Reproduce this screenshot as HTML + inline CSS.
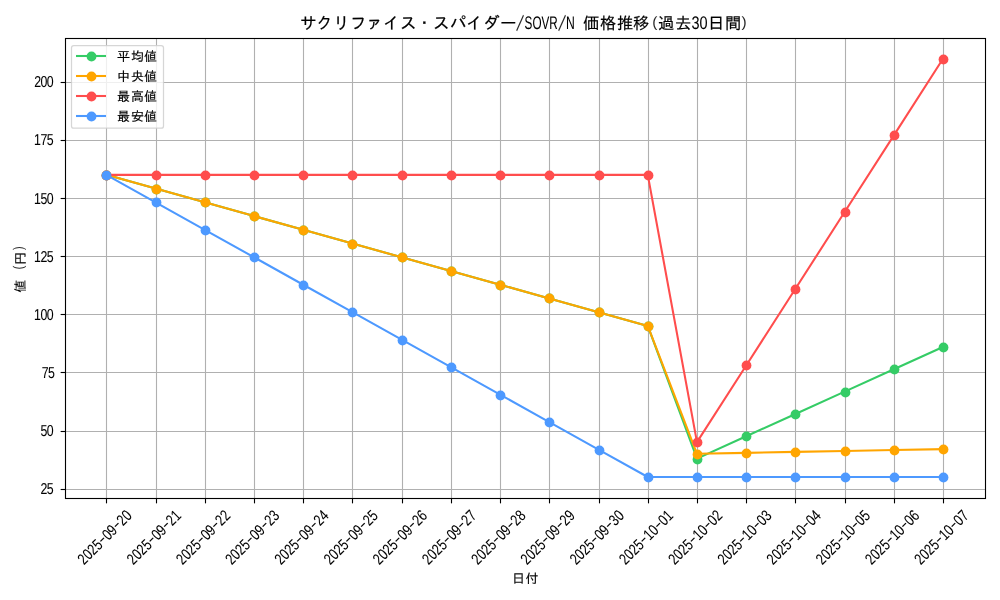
<!DOCTYPE html>
<html lang="ja">
<head>
<meta charset="utf-8">
<title>サクリファイス・スパイダー/SOVR/N 価格推移(過去30日間)</title>
<style>
html,body{margin:0;padding:0;background:#fff;width:1000px;height:600px;overflow:hidden}
svg{display:block}
text{font-family:"Liberation Sans", "IPAGothic", sans-serif;fill:#000;white-space:pre;stroke:#000;stroke-width:0.2px;stroke-linejoin:round}
.l{text-rendering:geometricPrecision;stroke-width:0.06px}
.sl{stroke:none;fill-opacity:0.85}
.g line{stroke:#b0b0b0;stroke-width:1.11}
.t line{stroke:#000;stroke-width:1.11}
.s{fill:none;stroke-width:2.08;stroke-linejoin:round;stroke-linecap:square}
.j{font-size:13.89px;stroke-width:0.15px}
.ti{font-size:16.67px}
.yl{stroke-width:0.08px}
</style>
</head>
<body>
<svg width="1000" height="600" viewBox="0 0 1000 600" role="img" aria-label="サクリファイス・スパイダー/SOVR/N 価格推移(過去30日間)">
<rect width="1000" height="600" fill="#fff"/>
<g class="g">
<line x1="106.5" y1="38.5" x2="106.5" y2="498.5"/>
<line x1="156.5" y1="38.5" x2="156.5" y2="498.5"/>
<line x1="205.5" y1="38.5" x2="205.5" y2="498.5"/>
<line x1="254.5" y1="38.5" x2="254.5" y2="498.5"/>
<line x1="303.5" y1="38.5" x2="303.5" y2="498.5"/>
<line x1="352.5" y1="38.5" x2="352.5" y2="498.5"/>
<line x1="402.5" y1="38.5" x2="402.5" y2="498.5"/>
<line x1="451.5" y1="38.5" x2="451.5" y2="498.5"/>
<line x1="500.5" y1="38.5" x2="500.5" y2="498.5"/>
<line x1="549.5" y1="38.5" x2="549.5" y2="498.5"/>
<line x1="599.5" y1="38.5" x2="599.5" y2="498.5"/>
<line x1="648.5" y1="38.5" x2="648.5" y2="498.5"/>
<line x1="697.5" y1="38.5" x2="697.5" y2="498.5"/>
<line x1="746.5" y1="38.5" x2="746.5" y2="498.5"/>
<line x1="795.5" y1="38.5" x2="795.5" y2="498.5"/>
<line x1="845.5" y1="38.5" x2="845.5" y2="498.5"/>
<line x1="894.5" y1="38.5" x2="894.5" y2="498.5"/>
<line x1="943.5" y1="38.5" x2="943.5" y2="498.5"/>
<line x1="65.5" y1="489.5" x2="985.5" y2="489.5"/>
<line x1="65.5" y1="431.5" x2="985.5" y2="431.5"/>
<line x1="65.5" y1="372.5" x2="985.5" y2="372.5"/>
<line x1="65.5" y1="314.5" x2="985.5" y2="314.5"/>
<line x1="65.5" y1="256.5" x2="985.5" y2="256.5"/>
<line x1="65.5" y1="198.5" x2="985.5" y2="198.5"/>
<line x1="65.5" y1="140.5" x2="985.5" y2="140.5"/>
<line x1="65.5" y1="82.5" x2="985.5" y2="82.5"/>
</g>
<g fill="#35cc66" stroke="#35cc66">
<polyline class="s" points="106.38,174.87 155.6,188.6 204.81,202.34 254.03,216.07 303.25,229.81 352.46,243.54 401.68,257.27 450.9,271.01 500.12,284.74 549.33,298.48 598.55,312.21 647.77,325.94 696.98,458.65 746.2,436.3 795.42,413.94 844.63,391.58 893.85,369.22 943.07,346.86"/>
<circle cx="106.5" cy="175.5" r="4.92" stroke="none"/>
<circle cx="156.5" cy="189.5" r="4.92" stroke="none"/>
<circle cx="205.5" cy="202.5" r="4.92" stroke="none"/>
<circle cx="254.5" cy="216.5" r="4.92" stroke="none"/>
<circle cx="303.5" cy="230.5" r="4.92" stroke="none"/>
<circle cx="352.5" cy="244.5" r="4.92" stroke="none"/>
<circle cx="402.5" cy="257.5" r="4.92" stroke="none"/>
<circle cx="451.5" cy="271.5" r="4.92" stroke="none"/>
<circle cx="500.5" cy="285.5" r="4.92" stroke="none"/>
<circle cx="549.5" cy="298.5" r="4.92" stroke="none"/>
<circle cx="599.5" cy="312.5" r="4.92" stroke="none"/>
<circle cx="648.5" cy="326.5" r="4.92" stroke="none"/>
<circle cx="697.5" cy="459.5" r="4.92" stroke="none"/>
<circle cx="746.5" cy="436.5" r="4.92" stroke="none"/>
<circle cx="795.5" cy="414.5" r="4.92" stroke="none"/>
<circle cx="845.5" cy="392.5" r="4.92" stroke="none"/>
<circle cx="894.5" cy="369.5" r="4.92" stroke="none"/>
<circle cx="943.5" cy="347.5" r="4.92" stroke="none"/>
</g>
<g fill="#ffa500" stroke="#ffa500">
<polyline class="s" points="106.38,174.87 155.6,188.6 204.81,202.34 254.03,216.07 303.25,229.81 352.46,243.54 401.68,257.27 450.9,271.01 500.12,284.74 549.33,298.48 598.55,312.21 647.77,325.94 696.98,453.77 746.2,452.84 795.42,451.91 844.63,450.98 893.85,450.06 943.07,449.13"/>
<circle cx="106.5" cy="175.5" r="4.92" stroke="none"/>
<circle cx="156.5" cy="189.5" r="4.92" stroke="none"/>
<circle cx="205.5" cy="202.5" r="4.92" stroke="none"/>
<circle cx="254.5" cy="216.5" r="4.92" stroke="none"/>
<circle cx="303.5" cy="230.5" r="4.92" stroke="none"/>
<circle cx="352.5" cy="244.5" r="4.92" stroke="none"/>
<circle cx="402.5" cy="257.5" r="4.92" stroke="none"/>
<circle cx="451.5" cy="271.5" r="4.92" stroke="none"/>
<circle cx="500.5" cy="285.5" r="4.92" stroke="none"/>
<circle cx="549.5" cy="298.5" r="4.92" stroke="none"/>
<circle cx="599.5" cy="312.5" r="4.92" stroke="none"/>
<circle cx="648.5" cy="326.5" r="4.92" stroke="none"/>
<circle cx="697.5" cy="454.5" r="4.92" stroke="none"/>
<circle cx="746.5" cy="453.5" r="4.92" stroke="none"/>
<circle cx="795.5" cy="452.5" r="4.92" stroke="none"/>
<circle cx="845.5" cy="451.5" r="4.92" stroke="none"/>
<circle cx="894.5" cy="450.5" r="4.92" stroke="none"/>
<circle cx="943.5" cy="449.5" r="4.92" stroke="none"/>
</g>
<g fill="#ff4d4d" stroke="#ff4d4d">
<polyline class="s" points="106.38,174.87 155.6,174.87 204.81,174.87 254.03,174.87 303.25,174.87 352.46,174.87 401.68,174.87 450.9,174.87 500.12,174.87 549.33,174.87 598.55,174.87 647.77,174.87 696.98,442.15 746.2,365.45 795.42,288.76 844.63,212.06 893.85,135.36 943.07,58.66"/>
<circle cx="106.5" cy="175.5" r="4.92" stroke="none"/>
<circle cx="156.5" cy="175.5" r="4.92" stroke="none"/>
<circle cx="205.5" cy="175.5" r="4.92" stroke="none"/>
<circle cx="254.5" cy="175.5" r="4.92" stroke="none"/>
<circle cx="303.5" cy="175.5" r="4.92" stroke="none"/>
<circle cx="352.5" cy="175.5" r="4.92" stroke="none"/>
<circle cx="402.5" cy="175.5" r="4.92" stroke="none"/>
<circle cx="451.5" cy="175.5" r="4.92" stroke="none"/>
<circle cx="500.5" cy="175.5" r="4.92" stroke="none"/>
<circle cx="549.5" cy="175.5" r="4.92" stroke="none"/>
<circle cx="599.5" cy="175.5" r="4.92" stroke="none"/>
<circle cx="648.5" cy="175.5" r="4.92" stroke="none"/>
<circle cx="697.5" cy="442.5" r="4.92" stroke="none"/>
<circle cx="746.5" cy="365.5" r="4.92" stroke="none"/>
<circle cx="795.5" cy="289.5" r="4.92" stroke="none"/>
<circle cx="845.5" cy="212.5" r="4.92" stroke="none"/>
<circle cx="894.5" cy="135.5" r="4.92" stroke="none"/>
<circle cx="943.5" cy="59.5" r="4.92" stroke="none"/>
</g>
<g fill="#4d99ff" stroke="#4d99ff">
<polyline class="s" points="106.38,174.87 155.6,202.34 204.81,229.81 254.03,257.27 303.25,284.74 352.46,312.21 401.68,339.68 450.9,367.14 500.12,394.61 549.33,422.08 598.55,449.55 647.77,477.02 696.98,477.02 746.2,477.02 795.42,477.02 844.63,477.02 893.85,477.02 943.07,477.02"/>
<circle cx="106.5" cy="175.5" r="4.92" stroke="none"/>
<circle cx="156.5" cy="202.5" r="4.92" stroke="none"/>
<circle cx="205.5" cy="230.5" r="4.92" stroke="none"/>
<circle cx="254.5" cy="257.5" r="4.92" stroke="none"/>
<circle cx="303.5" cy="285.5" r="4.92" stroke="none"/>
<circle cx="352.5" cy="312.5" r="4.92" stroke="none"/>
<circle cx="402.5" cy="340.5" r="4.92" stroke="none"/>
<circle cx="451.5" cy="367.5" r="4.92" stroke="none"/>
<circle cx="500.5" cy="395.5" r="4.92" stroke="none"/>
<circle cx="549.5" cy="422.5" r="4.92" stroke="none"/>
<circle cx="599.5" cy="450.5" r="4.92" stroke="none"/>
<circle cx="648.5" cy="477.5" r="4.92" stroke="none"/>
<circle cx="697.5" cy="477.5" r="4.92" stroke="none"/>
<circle cx="746.5" cy="477.5" r="4.92" stroke="none"/>
<circle cx="795.5" cy="477.5" r="4.92" stroke="none"/>
<circle cx="845.5" cy="477.5" r="4.92" stroke="none"/>
<circle cx="894.5" cy="477.5" r="4.92" stroke="none"/>
<circle cx="943.5" cy="477.5" r="4.92" stroke="none"/>
</g>
<rect x="65.5" y="38.5" width="920" height="460" fill="none" stroke="#000" stroke-width="1.11" stroke-linejoin="miter"/>
<g class="t">
<line x1="106.5" y1="498.5" x2="106.5" y2="503.36"/>
<line x1="156.5" y1="498.5" x2="156.5" y2="503.36"/>
<line x1="205.5" y1="498.5" x2="205.5" y2="503.36"/>
<line x1="254.5" y1="498.5" x2="254.5" y2="503.36"/>
<line x1="303.5" y1="498.5" x2="303.5" y2="503.36"/>
<line x1="352.5" y1="498.5" x2="352.5" y2="503.36"/>
<line x1="402.5" y1="498.5" x2="402.5" y2="503.36"/>
<line x1="451.5" y1="498.5" x2="451.5" y2="503.36"/>
<line x1="500.5" y1="498.5" x2="500.5" y2="503.36"/>
<line x1="549.5" y1="498.5" x2="549.5" y2="503.36"/>
<line x1="599.5" y1="498.5" x2="599.5" y2="503.36"/>
<line x1="648.5" y1="498.5" x2="648.5" y2="503.36"/>
<line x1="697.5" y1="498.5" x2="697.5" y2="503.36"/>
<line x1="746.5" y1="498.5" x2="746.5" y2="503.36"/>
<line x1="795.5" y1="498.5" x2="795.5" y2="503.36"/>
<line x1="845.5" y1="498.5" x2="845.5" y2="503.36"/>
<line x1="894.5" y1="498.5" x2="894.5" y2="503.36"/>
<line x1="943.5" y1="498.5" x2="943.5" y2="503.36"/>
<line x1="60.64" y1="489.5" x2="65.5" y2="489.5"/>
<line x1="60.64" y1="431.5" x2="65.5" y2="431.5"/>
<line x1="60.64" y1="372.5" x2="65.5" y2="372.5"/>
<line x1="60.64" y1="314.5" x2="65.5" y2="314.5"/>
<line x1="60.64" y1="256.5" x2="65.5" y2="256.5"/>
<line x1="60.64" y1="198.5" x2="65.5" y2="198.5"/>
<line x1="60.64" y1="140.5" x2="65.5" y2="140.5"/>
<line x1="60.64" y1="82.5" x2="65.5" y2="82.5"/>
</g>
<g>
<text class="l" transform="translate(40.8,494) scale(0.78,1)" font-size="15.8" x="-0.36 7.72" y="0">25</text>
<text class="l" transform="translate(40.8,436) scale(0.78,1)" font-size="15.8" x="-0.34 7.71" y="0">50</text>
<text class="l" transform="translate(42,378) scale(0.78,1)" font-size="15.8" x="-0.37 7.72" y="0">75</text>
<text class="l" transform="translate(34.5,320) scale(0.78,1)" font-size="15.8" x="-0.58 7.71 15.77" y="0">100</text>
<text class="l" transform="translate(34.5,262) scale(0.78,1)" font-size="15.8" x="-0.58 7.71 15.79" y="0">125</text>
<text class="l" transform="translate(34.5,204) scale(0.78,1)" font-size="15.8" x="-0.58 7.72 15.77" y="0">150</text>
<text class="l" transform="translate(34.5,145) scale(0.78,1)" font-size="15.8" x="-0.58 7.7 15.79" y="0">175</text>
<text class="l" transform="translate(34.5,87) scale(0.78,1)" font-size="15.8" x="-0.36 7.71 15.77" y="0">200</text>
</g>
<g font-size="15.8">
<text transform="translate(104.93,537.5) rotate(-45)"><tspan class="l" font-size="15.8" x="-34.5" y="5" textLength="27.6" lengthAdjust="spacingAndGlyphs">2025</tspan><tspan class="l" x="-6.86" y="3.7" textLength="6.82" lengthAdjust="spacingAndGlyphs">-</tspan><tspan class="l" font-size="15.8" x="0" y="5" textLength="13.8" lengthAdjust="spacingAndGlyphs">09</tspan><tspan class="l" x="13.84" y="3.7" textLength="6.82" lengthAdjust="spacingAndGlyphs">-</tspan><tspan class="l" font-size="15.8" x="20.7" y="5" textLength="13.8" lengthAdjust="spacingAndGlyphs">20</tspan></text>
<text transform="translate(154.15,537.5) rotate(-45)"><tspan class="l" font-size="15.8" x="-34.5" y="5" textLength="27.6" lengthAdjust="spacingAndGlyphs">2025</tspan><tspan class="l" x="-6.86" y="3.7" textLength="6.82" lengthAdjust="spacingAndGlyphs">-</tspan><tspan class="l" font-size="15.8" x="0" y="5" textLength="13.8" lengthAdjust="spacingAndGlyphs">09</tspan><tspan class="l" x="13.84" y="3.7" textLength="6.82" lengthAdjust="spacingAndGlyphs">-</tspan><tspan class="l" font-size="15.8" x="20.7" y="5" textLength="13.8" lengthAdjust="spacingAndGlyphs">21</tspan></text>
<text transform="translate(203.36,537.5) rotate(-45)"><tspan class="l" font-size="15.8" x="-34.5" y="5" textLength="27.6" lengthAdjust="spacingAndGlyphs">2025</tspan><tspan class="l" x="-6.86" y="3.7" textLength="6.82" lengthAdjust="spacingAndGlyphs">-</tspan><tspan class="l" font-size="15.8" x="0" y="5" textLength="13.8" lengthAdjust="spacingAndGlyphs">09</tspan><tspan class="l" x="13.84" y="3.7" textLength="6.82" lengthAdjust="spacingAndGlyphs">-</tspan><tspan class="l" font-size="15.8" x="20.7" y="5" textLength="13.8" lengthAdjust="spacingAndGlyphs">22</tspan></text>
<text transform="translate(252.58,537.5) rotate(-45)"><tspan class="l" font-size="15.8" x="-34.5" y="5" textLength="27.6" lengthAdjust="spacingAndGlyphs">2025</tspan><tspan class="l" x="-6.86" y="3.7" textLength="6.82" lengthAdjust="spacingAndGlyphs">-</tspan><tspan class="l" font-size="15.8" x="0" y="5" textLength="13.8" lengthAdjust="spacingAndGlyphs">09</tspan><tspan class="l" x="13.84" y="3.7" textLength="6.82" lengthAdjust="spacingAndGlyphs">-</tspan><tspan class="l" font-size="15.8" x="20.7" y="5" textLength="13.8" lengthAdjust="spacingAndGlyphs">23</tspan></text>
<text transform="translate(301.8,537.5) rotate(-45)"><tspan class="l" font-size="15.8" x="-34.5" y="5" textLength="27.6" lengthAdjust="spacingAndGlyphs">2025</tspan><tspan class="l" x="-6.86" y="3.7" textLength="6.82" lengthAdjust="spacingAndGlyphs">-</tspan><tspan class="l" font-size="15.8" x="0" y="5" textLength="13.8" lengthAdjust="spacingAndGlyphs">09</tspan><tspan class="l" x="13.84" y="3.7" textLength="6.82" lengthAdjust="spacingAndGlyphs">-</tspan><tspan class="l" font-size="15.8" x="20.7" y="5" textLength="13.8" lengthAdjust="spacingAndGlyphs">24</tspan></text>
<text transform="translate(351.01,537.5) rotate(-45)"><tspan class="l" font-size="15.8" x="-34.5" y="5" textLength="27.6" lengthAdjust="spacingAndGlyphs">2025</tspan><tspan class="l" x="-6.86" y="3.7" textLength="6.82" lengthAdjust="spacingAndGlyphs">-</tspan><tspan class="l" font-size="15.8" x="0" y="5" textLength="13.8" lengthAdjust="spacingAndGlyphs">09</tspan><tspan class="l" x="13.84" y="3.7" textLength="6.82" lengthAdjust="spacingAndGlyphs">-</tspan><tspan class="l" font-size="15.8" x="20.7" y="5" textLength="13.8" lengthAdjust="spacingAndGlyphs">25</tspan></text>
<text transform="translate(400.23,537.5) rotate(-45)"><tspan class="l" font-size="15.8" x="-34.5" y="5" textLength="27.6" lengthAdjust="spacingAndGlyphs">2025</tspan><tspan class="l" x="-6.86" y="3.7" textLength="6.82" lengthAdjust="spacingAndGlyphs">-</tspan><tspan class="l" font-size="15.8" x="0" y="5" textLength="13.8" lengthAdjust="spacingAndGlyphs">09</tspan><tspan class="l" x="13.84" y="3.7" textLength="6.82" lengthAdjust="spacingAndGlyphs">-</tspan><tspan class="l" font-size="15.8" x="20.7" y="5" textLength="13.8" lengthAdjust="spacingAndGlyphs">26</tspan></text>
<text transform="translate(449.45,537.5) rotate(-45)"><tspan class="l" font-size="15.8" x="-34.5" y="5" textLength="27.6" lengthAdjust="spacingAndGlyphs">2025</tspan><tspan class="l" x="-6.86" y="3.7" textLength="6.82" lengthAdjust="spacingAndGlyphs">-</tspan><tspan class="l" font-size="15.8" x="0" y="5" textLength="13.8" lengthAdjust="spacingAndGlyphs">09</tspan><tspan class="l" x="13.84" y="3.7" textLength="6.82" lengthAdjust="spacingAndGlyphs">-</tspan><tspan class="l" font-size="15.8" x="20.7" y="5" textLength="13.8" lengthAdjust="spacingAndGlyphs">27</tspan></text>
<text transform="translate(498.67,537.5) rotate(-45)"><tspan class="l" font-size="15.8" x="-34.5" y="5" textLength="27.6" lengthAdjust="spacingAndGlyphs">2025</tspan><tspan class="l" x="-6.86" y="3.7" textLength="6.82" lengthAdjust="spacingAndGlyphs">-</tspan><tspan class="l" font-size="15.8" x="0" y="5" textLength="13.8" lengthAdjust="spacingAndGlyphs">09</tspan><tspan class="l" x="13.84" y="3.7" textLength="6.82" lengthAdjust="spacingAndGlyphs">-</tspan><tspan class="l" font-size="15.8" x="20.7" y="5" textLength="13.8" lengthAdjust="spacingAndGlyphs">28</tspan></text>
<text transform="translate(547.88,537.5) rotate(-45)"><tspan class="l" font-size="15.8" x="-34.5" y="5" textLength="27.6" lengthAdjust="spacingAndGlyphs">2025</tspan><tspan class="l" x="-6.86" y="3.7" textLength="6.82" lengthAdjust="spacingAndGlyphs">-</tspan><tspan class="l" font-size="15.8" x="0" y="5" textLength="13.8" lengthAdjust="spacingAndGlyphs">09</tspan><tspan class="l" x="13.84" y="3.7" textLength="6.82" lengthAdjust="spacingAndGlyphs">-</tspan><tspan class="l" font-size="15.8" x="20.7" y="5" textLength="13.8" lengthAdjust="spacingAndGlyphs">29</tspan></text>
<text transform="translate(597.1,537.5) rotate(-45)"><tspan class="l" font-size="15.8" x="-34.5" y="5" textLength="27.6" lengthAdjust="spacingAndGlyphs">2025</tspan><tspan class="l" x="-6.86" y="3.7" textLength="6.82" lengthAdjust="spacingAndGlyphs">-</tspan><tspan class="l" font-size="15.8" x="0" y="5" textLength="13.8" lengthAdjust="spacingAndGlyphs">09</tspan><tspan class="l" x="13.84" y="3.7" textLength="6.82" lengthAdjust="spacingAndGlyphs">-</tspan><tspan class="l" font-size="15.8" x="20.7" y="5" textLength="13.8" lengthAdjust="spacingAndGlyphs">30</tspan></text>
<text transform="translate(646.32,537.5) rotate(-45)"><tspan class="l" font-size="15.8" x="-34.5" y="5" textLength="27.6" lengthAdjust="spacingAndGlyphs">2025</tspan><tspan class="l" x="-6.86" y="3.7" textLength="6.82" lengthAdjust="spacingAndGlyphs">-</tspan><tspan class="l" font-size="15.8" x="0" y="5" textLength="13.8" lengthAdjust="spacingAndGlyphs">10</tspan><tspan class="l" x="13.84" y="3.7" textLength="6.82" lengthAdjust="spacingAndGlyphs">-</tspan><tspan class="l" font-size="15.8" x="20.7" y="5" textLength="13.8" lengthAdjust="spacingAndGlyphs">01</tspan></text>
<text transform="translate(695.53,537.5) rotate(-45)"><tspan class="l" font-size="15.8" x="-34.5" y="5" textLength="27.6" lengthAdjust="spacingAndGlyphs">2025</tspan><tspan class="l" x="-6.86" y="3.7" textLength="6.82" lengthAdjust="spacingAndGlyphs">-</tspan><tspan class="l" font-size="15.8" x="0" y="5" textLength="13.8" lengthAdjust="spacingAndGlyphs">10</tspan><tspan class="l" x="13.84" y="3.7" textLength="6.82" lengthAdjust="spacingAndGlyphs">-</tspan><tspan class="l" font-size="15.8" x="20.7" y="5" textLength="13.8" lengthAdjust="spacingAndGlyphs">02</tspan></text>
<text transform="translate(744.75,537.5) rotate(-45)"><tspan class="l" font-size="15.8" x="-34.5" y="5" textLength="27.6" lengthAdjust="spacingAndGlyphs">2025</tspan><tspan class="l" x="-6.86" y="3.7" textLength="6.82" lengthAdjust="spacingAndGlyphs">-</tspan><tspan class="l" font-size="15.8" x="0" y="5" textLength="13.8" lengthAdjust="spacingAndGlyphs">10</tspan><tspan class="l" x="13.84" y="3.7" textLength="6.82" lengthAdjust="spacingAndGlyphs">-</tspan><tspan class="l" font-size="15.8" x="20.7" y="5" textLength="13.8" lengthAdjust="spacingAndGlyphs">03</tspan></text>
<text transform="translate(793.97,537.5) rotate(-45)"><tspan class="l" font-size="15.8" x="-34.5" y="5" textLength="27.6" lengthAdjust="spacingAndGlyphs">2025</tspan><tspan class="l" x="-6.86" y="3.7" textLength="6.82" lengthAdjust="spacingAndGlyphs">-</tspan><tspan class="l" font-size="15.8" x="0" y="5" textLength="13.8" lengthAdjust="spacingAndGlyphs">10</tspan><tspan class="l" x="13.84" y="3.7" textLength="6.82" lengthAdjust="spacingAndGlyphs">-</tspan><tspan class="l" font-size="15.8" x="20.7" y="5" textLength="13.8" lengthAdjust="spacingAndGlyphs">04</tspan></text>
<text transform="translate(843.18,537.5) rotate(-45)"><tspan class="l" font-size="15.8" x="-34.5" y="5" textLength="27.6" lengthAdjust="spacingAndGlyphs">2025</tspan><tspan class="l" x="-6.86" y="3.7" textLength="6.82" lengthAdjust="spacingAndGlyphs">-</tspan><tspan class="l" font-size="15.8" x="0" y="5" textLength="13.8" lengthAdjust="spacingAndGlyphs">10</tspan><tspan class="l" x="13.84" y="3.7" textLength="6.82" lengthAdjust="spacingAndGlyphs">-</tspan><tspan class="l" font-size="15.8" x="20.7" y="5" textLength="13.8" lengthAdjust="spacingAndGlyphs">05</tspan></text>
<text transform="translate(892.4,537.5) rotate(-45)"><tspan class="l" font-size="15.8" x="-34.5" y="5" textLength="27.6" lengthAdjust="spacingAndGlyphs">2025</tspan><tspan class="l" x="-6.86" y="3.7" textLength="6.82" lengthAdjust="spacingAndGlyphs">-</tspan><tspan class="l" font-size="15.8" x="0" y="5" textLength="13.8" lengthAdjust="spacingAndGlyphs">10</tspan><tspan class="l" x="13.84" y="3.7" textLength="6.82" lengthAdjust="spacingAndGlyphs">-</tspan><tspan class="l" font-size="15.8" x="20.7" y="5" textLength="13.8" lengthAdjust="spacingAndGlyphs">06</tspan></text>
<text transform="translate(941.62,537.5) rotate(-45)"><tspan class="l" font-size="15.8" x="-34.5" y="5" textLength="27.6" lengthAdjust="spacingAndGlyphs">2025</tspan><tspan class="l" x="-6.86" y="3.7" textLength="6.82" lengthAdjust="spacingAndGlyphs">-</tspan><tspan class="l" font-size="15.8" x="0" y="5" textLength="13.8" lengthAdjust="spacingAndGlyphs">10</tspan><tspan class="l" x="13.84" y="3.7" textLength="6.82" lengthAdjust="spacingAndGlyphs">-</tspan><tspan class="l" font-size="15.8" x="20.7" y="5" textLength="13.8" lengthAdjust="spacingAndGlyphs">07</tspan></text>
</g>
<text class="j"><tspan x="512 525.5" y="583" font-size="13">日付</tspan></text>
<text class="j yl" transform="translate(25,268.7) rotate(-90)"><tspan x="-24" y="0" font-size="13">値</tspan> <tspan class="l sl" font-size="14" x="-0.81" y="-1.6" textLength="3.77" lengthAdjust="spacingAndGlyphs">(</tspan><tspan x="4" y="0" font-size="13">円</tspan><tspan class="l sl" font-size="14" x="18.63" y="-1.6" textLength="3.77" lengthAdjust="spacingAndGlyphs">)</tspan></text>
<text class="ti"><tspan x="300 316 333 350 366 383 400 416 433 450 466 483 500" y="29" font-size="16.67">サクリファイス・スパイダー</tspan><tspan class="l sl" font-size="28.3" x="516.25" y="30" rotate="29" textLength="3.6" lengthAdjust="spacingAndGlyphs">/</tspan><tspan class="l" font-size="18.2" x="524.57" y="28.6" rotate="0" textLength="33.17" lengthAdjust="spacingAndGlyphs">SOVR</tspan><tspan class="l sl" font-size="28.3" x="558.25" y="30" rotate="29" textLength="3.6" lengthAdjust="spacingAndGlyphs">/</tspan><tspan class="l" font-size="18.2" x="566.1" y="28.6" rotate="0" textLength="8.79" lengthAdjust="spacingAndGlyphs">N</tspan><tspan rotate="0"> </tspan><tspan x="583 600 617 633" y="29" font-size="16.3">価格推移</tspan><tspan class="l sl" font-size="15" x="652.34" y="26.6" textLength="5.15" lengthAdjust="spacingAndGlyphs">(</tspan><tspan x="658 675" y="29" font-size="16.3">過去</tspan><tspan class="l" font-size="18.2" x="691.55" y="28.6" textLength="16.12" lengthAdjust="spacingAndGlyphs">30</tspan><tspan x="708 725" y="29" font-size="16.3">日間</tspan><tspan class="l sl" font-size="15" x="741.61" y="26.6" textLength="5.15" lengthAdjust="spacingAndGlyphs">)</tspan></text>
<rect x="71.5" y="45.5" width="92" height="82.7" rx="2.3" ry="2.3" fill="#fff" fill-opacity="0.8" stroke="#ccc" stroke-opacity="0.8" stroke-width="1.25"/>
<g fill="#35cc66" stroke="#35cc66">
<line class="s" stroke-linecap="butt" style="stroke-linecap:butt" x1="76" y1="56" x2="106" y2="56"/>
<circle cx="91.5" cy="56.5" r="4.92" stroke="none"/>
</g>
<text class="j"><tspan x="117 131 144" y="61" font-size="13">平均値</tspan></text>
<g fill="#ffa500" stroke="#ffa500">
<line class="s" stroke-linecap="butt" style="stroke-linecap:butt" x1="76" y1="76" x2="106" y2="76"/>
<circle cx="91.5" cy="76.5" r="4.92" stroke="none"/>
</g>
<text class="j"><tspan x="117 131 144" y="81" font-size="13">中央値</tspan></text>
<g fill="#ff4d4d" stroke="#ff4d4d">
<line class="s" stroke-linecap="butt" style="stroke-linecap:butt" x1="76" y1="96" x2="106" y2="96"/>
<circle cx="91.5" cy="96.5" r="4.92" stroke="none"/>
</g>
<text class="j"><tspan x="117 131 144" y="101" font-size="13">最高値</tspan></text>
<g fill="#4d99ff" stroke="#4d99ff">
<line class="s" stroke-linecap="butt" style="stroke-linecap:butt" x1="76" y1="116" x2="106" y2="116"/>
<circle cx="91.5" cy="116.5" r="4.92" stroke="none"/>
</g>
<text class="j"><tspan x="117 131 144" y="121" font-size="13">最安値</tspan></text>
</svg>
</body>
</html>
